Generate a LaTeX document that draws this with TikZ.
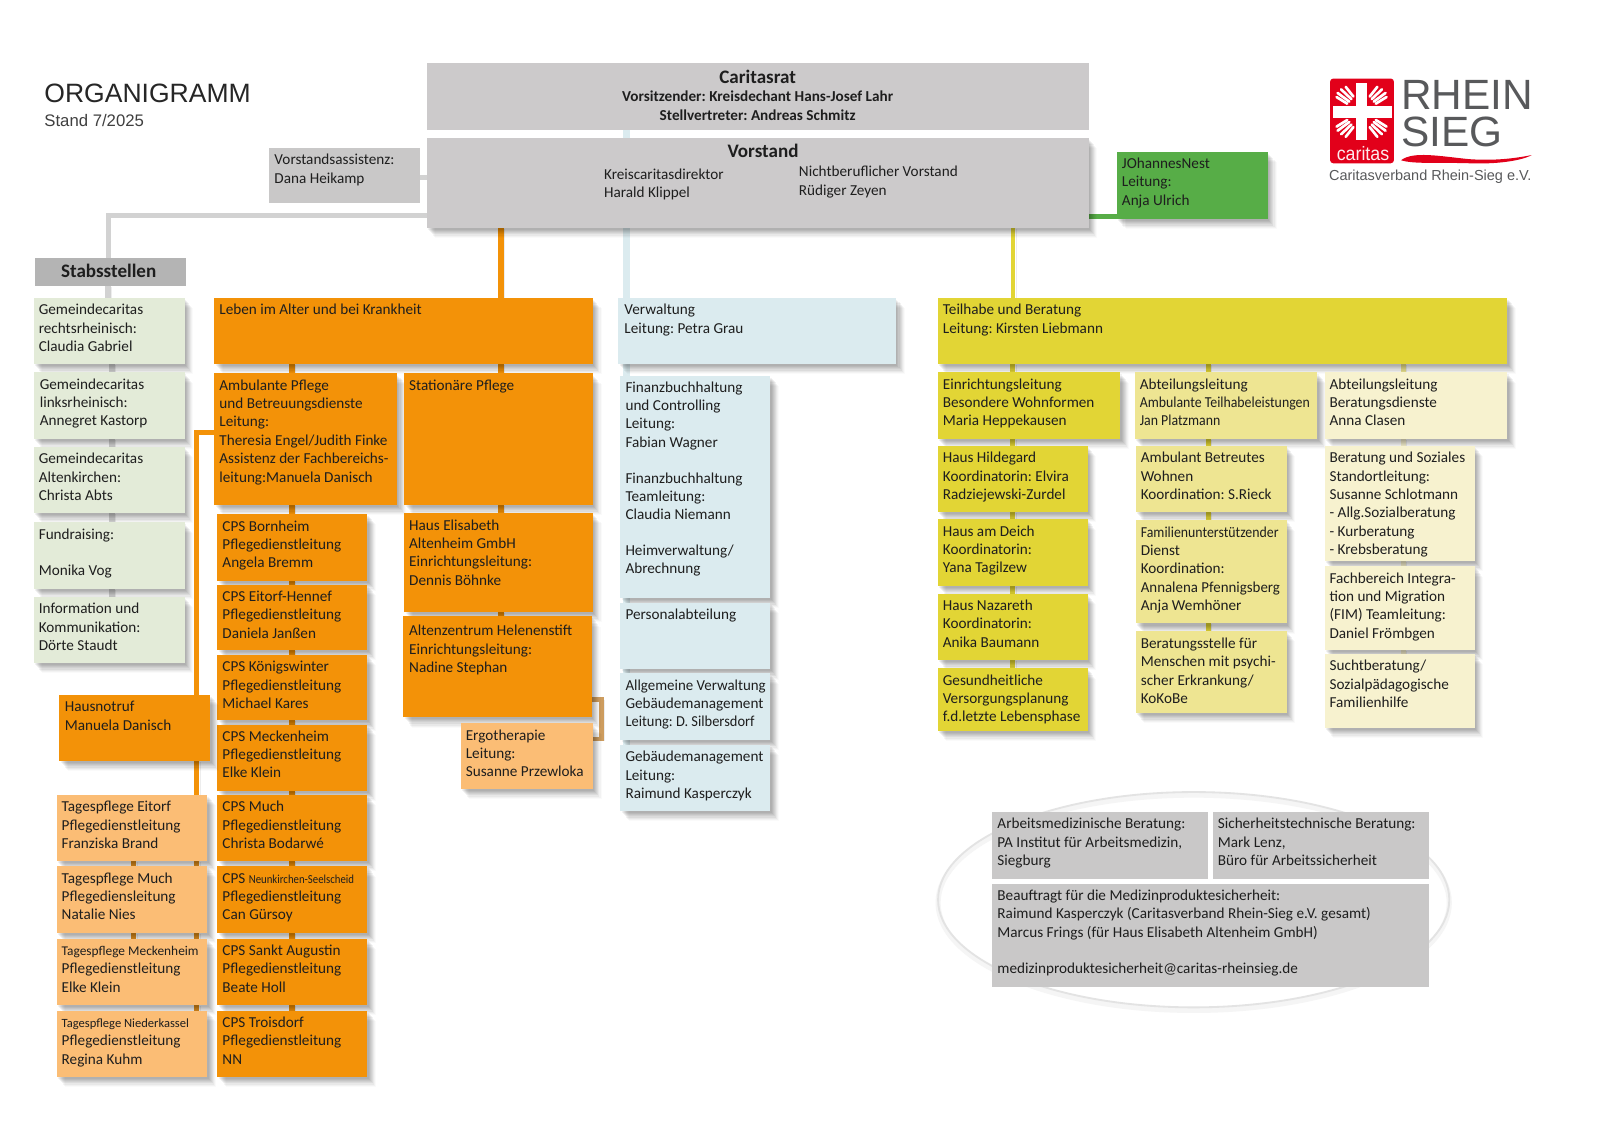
\documentclass[tikz,border=0pt]{standalone}
\usepackage{fontspec}
\usepackage{graphicx}
\setmainfont{Carlito}
\newfontfamily\arialf{Liberation Sans}
\usetikzlibrary{shadows,shapes.geometric,backgrounds,calc}
\definecolor{cGray}{HTML}{CCCACB}
\definecolor{cGrayB}{HTML}{C9C8C8}
\definecolor{cStab}{HTML}{B4B4B4}
\definecolor{cLine}{HTML}{D2D2D2}
\definecolor{cPale}{HTML}{E3EBD8}
\definecolor{cOr}{HTML}{F39208}
\definecolor{cOrL}{HTML}{FBBD75}
\definecolor{cOrD}{HTML}{E08F1E}
\definecolor{cTan}{HTML}{CD9C5E}
\definecolor{cBlue}{HTML}{DBEBEF}
\definecolor{cYe}{HTML}{E2D535}
\definecolor{cYeB}{HTML}{EEE592}
\definecolor{cYeC}{HTML}{F7F2CF}
\definecolor{cGreen}{HTML}{57AD47}
\definecolor{cRed}{HTML}{E2001A}
\definecolor{cLogo}{HTML}{58595B}
\definecolor{cTxt}{HTML}{1E1E1E}
\tikzset{
  boxst/.style={anchor=north west,inner xsep=5pt,inner ysep=0pt,outer sep=0pt,
    text=cTxt,font=\fontsize{14.9}{18}\selectfont\frenchspacing},
  sh/.style={
    drop shadow={shadow xshift=1.5pt,shadow yshift=-2pt,fill=black,opacity=.05},
    drop shadow={shadow xshift=2.5pt,shadow yshift=-3pt,fill=black,opacity=.05},
    drop shadow={shadow xshift=3.5pt,shadow yshift=-4pt,fill=black,opacity=.05},
    drop shadow={shadow xshift=4.5pt,shadow yshift=-5pt,fill=black,opacity=.05},
    drop shadow={shadow xshift=5.5pt,shadow yshift=-6.5pt,fill=black,opacity=.05},
    drop shadow={shadow xshift=6.5pt,shadow yshift=-8pt,fill=black,opacity=.04},
    drop shadow={shadow xshift=7.5pt,shadow yshift=-9pt,fill=black,opacity=.03},
    drop shadow={shadow xshift=8.5pt,shadow yshift=-10pt,fill=black,opacity=.02}},
  conn/.style={line width=6pt,line cap=butt,line join=miter,
    preaction={draw=black,opacity=.07,transform canvas={shift={(3pt,-1pt)}}}},
  pale/.style={fill=cPale,sh},
  ora/.style={fill=cOr,sh},
  orl/.style={fill=cOrL,sh},
  blu/.style={fill=cBlue,sh},
  yea/.style={fill=cYe,sh},
  yeb/.style={fill=cYeB,sh},
  yec/.style={fill=cYeC,sh},
  gry/.style={fill=cGray},
  plain/.style={fill=none},
  headf/.style={font=\fontsize{18.7}{18}\selectfont\bfseries},
  logot/.style={anchor=base west,inner sep=0pt,outer sep=0pt,text=cLogo}
}
% [style]{name}{x1}{y1}{x2}{y2}{lines}
\newcommand{\bx}[7][]{%
  \pgfmathsetmacro\bw{#5-#3-10}\pgfmathsetmacro\bh{#6-#4}%
  \node[boxst,#1] (#2) at (#3,#4) {\parbox[t][\bh pt][t]{\bw pt}{\vspace*{3.8pt}\begin{tabular}[t]{@{}l@{}}#7\end{tabular}}};}
\newcommand{\bxc}[7][]{%
  \pgfmathsetmacro\bw{#5-#3-10}\pgfmathsetmacro\bh{#6-#4}%
  \node[boxst,#1] (#2) at (#3,#4) {\parbox[t][\bh pt][t]{\bw pt}{\centering\vspace*{6.5pt}\begin{tabular}[t]{@{}c@{}}#7\end{tabular}}};}
% vertical link at given x
\newcommand{\vl}[4][]{\begin{pgfonlayer}{background}\path (#4,0) coordinate (cx);\draw[conn,#1] (#2.south -| cx) -- (#3.north -| cx);\end{pgfonlayer}}
\newcommand{\sqz}[2]{\scalebox{#1}[1]{#2}}
\begin{document}
\begin{tikzpicture}[x=1pt,y=-1pt]
\useasboundingbox (0,0) rectangle (1568,1108.4);
\begin{pgfonlayer}{background}
\fill[white] (0,0) rectangle (1568,1108.4);
\node[ellipse,draw=black!11,line width=1.8pt,minimum width=501pt,minimum height=211pt,inner sep=0pt,
  preaction={draw=black!4,line width=5pt,transform canvas={shift={(0pt,-3pt)}}}] (oval) at (1169.8,881.7) {};
\end{pgfonlayer}

% titles
\node[logot,text=black!85,font=\arialf\fontsize{26}{30}\selectfont] (titel) at (43.5,100) {ORGANIGRAMM};
\node[logot,text=black!75,font=\arialf\fontsize{16.4}{18}\selectfont] (stand) at (43.5,124) {Stand 7/2025};

% top
\bxc[gry]{rat}{418}{62}{1067}{127}{{\fontsize{18.7}{18}\selectfont\bfseries Caritasrat}\\\textbf{Vorsitzender: Kreisdechant Hans-Josef Lahr}\\\textbf{Stellvertreter: Andreas Schmitz}}
\bx[gry,sh]{vorst}{418}{135}{1067}{223}{}
\bx[plain,headf]{vt}{708}{137.5}{800}{160}{Vorstand}
\bx[plain]{vk}{587}{159.5}{760}{200}{Kreiscaritasdirektor\\Harald Klippel}
\bx[plain]{vn}{778}{157}{960}{200}{Nichtberuflicher Vorstand\\Rüdiger Zeyen}
\bx[fill=cGrayB]{assi}{264}{145}{412}{199}{Vorstandsassistenz:\\Dana Heikamp}
\bx[fill=cGreen,sh]{john}{1094.5}{148.5}{1242.5}{214.5}{JOhannesNest\\Leitung:\\Anja Ulrich}
\bxc[fill=cStab,headf]{stab}{34}{252.5}{182}{280}{\hspace*{-3pt}Stabsstellen}

% Stabsstellen column
\bx[pale]{ga}{33}{292}{181}{357}{Gemeindecaritas\\rechtsrheinisch:\\Claudia Gabriel}
\bx[pale]{gb}{33}{365}{181}{430}{\hspace*{1pt}Gemeindecaritas\\\hspace*{1pt}linksrheinisch:\\\hspace*{1pt}Annegret Kastorp}
\bx[pale]{gc}{33}{438}{181}{503}{Gemeindecaritas\\Altenkirchen:\\Christa Abts}
\bx[pale]{gd}{33}{512}{181}{577}{Fundraising:\\\\Monika Vog}
\bx[pale]{ge}{33}{585}{181}{650}{Information und\\Kommunikation:\\Dörte Staudt}

% Leben im Alter
\bx[ora]{leben}{210}{292}{581}{357}{Leben im Alter und bei Krankheit}
\bx[ora]{amb}{210}{366}{389}{495}{Ambulante Pflege\\und Betreuungsdienste\\Leitung:\\Theresia Engel/Judith Finke\\Assistenz der Fachbereichs-\\leitung:Manuela Danisch}
\bx[ora]{stat}{396}{366}{581}{495}{Stationäre Pflege}
\bx[ora]{cpsa}{213}{504}{360}{569}{CPS Bornheim\\Pflegedienstleitung\\Angela Bremm}
\bx[ora]{cpsb}{213}{573}{360}{637}{CPS Eitorf-Hennef\\Pflegedienstleitung\\Daniela Janßen}
\bx[ora]{cpsc}{213}{642}{360}{706}{CPS Königswinter\\Pflegedienstleitung\\Michael Kares}
\bx[ora]{cpsd}{213}{710}{360}{775}{CPS Meckenheim\\Pflegedienstleitung\\Elke Klein}
\bx[ora]{cpse}{213}{779}{360}{844}{CPS Much\\Pflegedienstleitung\\Christa Bodarwé}
\bx[ora]{cpsf}{213}{849}{360}{914}{CPS {\fontsize{12}{18}\selectfont\sqz{.88}{Neunkirchen-Seelscheid}}\\Pflegedienstleitung\\Can Gürsoy}
\bx[ora]{cpsg}{213}{920}{360}{985}{CPS Sankt Augustin\\Pflegedienstleitung\\Beate Holl}
\bx[ora]{cpsh}{213}{990.5}{360}{1055}{CPS Troisdorf\\Pflegedienstleitung\\NN}
\bx[ora]{hausn}{58}{681}{206}{746}{\hspace*{.5pt}Hausnotruf\\\hspace*{.5pt}Manuela Danisch}
\bx[orl]{tpa}{55.5}{779}{203}{844}{Tagespflege Eitorf\\Pflegedienstleitung\\Franziska Brand}
\bx[orl]{tpb}{55.5}{849}{203}{914}{Tagespflege Much\\Pflegediensleitung\\Natalie Nies}
\bx[orl]{tpc}{55.5}{920}{203}{985}{{\fontsize{13.1}{18}\selectfont Tagespflege Meckenheim}\\Pflegedienstleitung\\Elke Klein}
\bx[orl]{tpd}{55.5}{990.5}{203}{1055}{{\fontsize{12.3}{18}\selectfont Tagespflege Niederkassel}\\Pflegedienstleitung\\Regina Kuhm}
\bx[ora]{elis}{396}{503}{581}{600}{Haus Elisabeth\\Altenheim GmbH\\Einrichtungsleitung:\\Dennis Böhnke}
\bx[ora]{alten}{395}{604}{580}{703}{\rule{0pt}{15.2pt}\hspace*{1pt}Altenzentrum Helenenstift\\\hspace*{1pt}Einrichtungsleitung:\\\hspace*{1pt}Nadine Stephan}
\bx[orl]{ergo}{451.5}{709}{581}{773}{Ergotherapie\\Leitung:\\Susanne Przewloka}

% Verwaltung
\bx[blu]{verw}{606}{292}{878}{357}{\hspace*{1pt}Verwaltung\\\hspace*{1pt}Leitung: Petra Grau}
\bx[blu]{fin}{608}{368}{755}{586}{Finanzbuchhaltung\\und Controlling\\Leitung:\\Fabian Wagner\\\\[-1pt]Finanzbuchhaltung\\Teamleitung:\\Claudia Niemann\\\\[-1pt]Heimverwaltung/\\Abrechnung}
\bx[blu]{pers}{608}{591}{755}{656}{Personalabteilung}
\bx[blu]{allg}{608}{660}{755}{725}{\sqz{.98}{Allgemeine Verwaltung}\\Gebäudemanagement\\\sqz{.95}{Leitung: D. Silbersdorf}}
\bx[blu]{geb}{608}{730}{755}{795}{Gebäudemanagement\\Leitung:\\Raimund Kasperczyk}

% Teilhabe
\bx[yea]{teil}{919}{292}{1477}{357}{Teilhabe und Beratung\\Leitung: Kirsten Liebmann}
\bx[yea]{eina}{919}{365}{1098}{430}{Einrichtungsleitung\\Besondere Wohnformen\\Maria Heppekausen}
\bx[yeb]{abta}{1112}{365}{1291}{430}{Abteilungsleitung\\\sqz{.91}{Ambulante Teilhabeleistungen}\\\sqz{.91}{Jan Platzmann}}
\bx[yec]{abtb}{1298}{365}{1477}{430}{Abteilungsleitung\\Beratungsdienste\\Anna Clasen}
\bx[yea]{hhil}{919}{437}{1066}{502}{Haus Hildegard\\Koordinatorin: Elvira\\Radziejewski-Zurdel}
\bx[yea]{hdei}{919}{509}{1066}{574}{Haus am Deich\\Koordinatorin:\\Yana Tagilzew}
\bx[yea]{hnaz}{919}{582}{1066}{647}{Haus Nazareth\\Koordinatorin:\\Anika Baumann}
\bx[yea]{gesu}{919}{655}{1066}{716}{Gesundheitliche\\Versorgungsplanung\\f.d.letzte Lebensphase}
\bx[yeb]{abw}{1113}{437}{1261}{502}{Ambulant Betreutes\\Wohnen\\Koordination: S.Rieck}
\bx[yeb]{fam}{1113}{510}{1261}{611}{\sqz{.91}{Familienunterstützender}\\Dienst\\Koordination:\\\sqz{.98}{Annalena Pfennigsberg}\\Anja Wemhöner}
\bx[yeb]{bst}{1113}{618}{1261}{699}{\rule{0pt}{13.6pt}Beratungsstelle für\\Menschen mit psychi-\\scher Erkrankung/\\KoKoBe}
\bx[yec]{bes}{1298}{437}{1445}{550}{Beratung und Soziales\\Standortleitung:\\Susanne Schlotmann\\- Allg.Sozialberatung\\- Kurberatung\\- Krebsberatung}
\bx[yec]{fim}{1298}{555}{1445}{637}{Fachbereich Integra-\\tion und Migration\\(FIM) Teamleitung:\\Daniel Frömbgen}
\bx[yec]{such}{1298}{641}{1445}{713}{Suchtberatung/\\Sozialpädagogische\\Familienhilfe}

% bottom group
\bx[fill=cGrayB]{arb}{972.5}{796}{1184}{861}{Arbeitsmedizinische Beratung:\\PA Institut für Arbeitsmedizin,\\Siegburg}
\bx[fill=cGrayB]{sich}{1188.5}{796}{1400}{861}{Sicherheitstechnische Beratung:\\Mark Lenz,\\Büro für Arbeitssicherheit}
\bx[fill=cGrayB]{bea}{972.5}{866}{1400}{967}{Beauftragt für die Medizinproduktesicherheit:\\Raimund Kasperczyk (Caritasverband Rhein-Sieg e.V. gesamt)\\Marcus Frings (für Haus Elisabeth Altenheim GmbH)\\\\medizinproduktesicherheit@caritas-rheinsieg.de}

% connectors
\vl[draw=cBlue,line width=7pt]{rat}{vorst}{614}
\vl[draw=cBlue,line width=7pt]{vorst}{verw}{614}
\vl[draw=cOr,line width=6.5pt]{vorst}{leben}{491}
\vl[draw=cYe,line width=4pt]{vorst}{teil}{992.5}
\begin{pgfonlayer}{background}
\path (106,211) coordinate (stabc) (0,174) coordinate (assic) (0,212) coordinate (grnc) (193,424) coordinate (leftc) (589.5,685.5) coordinate (ebt) (589.5,724) coordinate (ebb);
\draw[draw=cLine,line width=5pt] (vorst.west |- stabc) -- (stabc) -- (stab.north -| stabc);
\draw[draw=cLine,line width=5pt] (assi.east |- assic) -- (vorst.west |- assic);
\draw[conn,draw=cGreen,line width=5pt] (vorst.east |- grnc) -- (john.west |- grnc);
\draw[draw=cOr,line width=5pt] (amb.west |- leftc) -- (leftc) -- (hausn.north -| leftc);
\draw[conn,draw=cTan,line width=4pt] (alten.east |- ebt) -- (ebt) -- (ebb) -- (ergo.east |- ebb);
\end{pgfonlayer}
\vl[draw=cLine]{stab}{ga}{106}
\vl[draw=cLine]{ga}{gb}{110}
\vl[draw=cLine]{gb}{gc}{110}
\vl[draw=cLine]{gc}{gd}{110}
\vl[draw=cLine]{gd}{ge}{110}
\vl[draw=cOr]{leben}{amb}{286}
\vl[draw=cOr]{leben}{stat}{491}
\vl[draw=cOr]{amb}{cpsa}{286}
\vl[draw=cOr]{cpsa}{cpsb}{286}
\vl[draw=cOr]{cpsb}{cpsc}{286}
\vl[draw=cOr]{cpsc}{cpsd}{286}
\vl[draw=cOr]{cpsd}{cpse}{286}
\vl[draw=cOr]{cpse}{cpsf}{286}
\vl[draw=cOr]{cpsf}{cpsg}{286}
\vl[draw=cOr]{cpsg}{cpsh}{286}
\vl[draw=cOr]{stat}{elis}{491}
\vl[draw=cOr]{elis}{alten}{491}
\vl[draw=cOr,line width=5pt]{hausn}{tpa}{193}
\vl[draw=cOrD,line width=5pt]{tpa}{tpb}{193}
\vl[draw=cOrD,line width=5pt]{tpb}{tpc}{193}
\vl[draw=cOrD,line width=5pt]{tpc}{tpd}{193}
\vl[draw=cOrD,line width=5pt]{tpa}{tpb}{131}
\vl[draw=cOrD,line width=5pt]{tpb}{tpc}{131}
\vl[draw=cBlue,line width=7pt]{verw}{fin}{614}
\vl[draw=cBlue,line width=7pt]{fin}{pers}{614}
\vl[draw=cBlue,line width=7pt]{pers}{allg}{614}
\vl[draw=cBlue,line width=7pt]{allg}{geb}{614}
\vl[draw=cYe,line width=5pt]{teil}{eina}{992.5}
\vl[draw=cYe,line width=5pt]{eina}{hhil}{992.5}
\vl[draw=cYe,line width=5pt]{hhil}{hdei}{992.5}
\vl[draw=cYe,line width=5pt]{hdei}{hnaz}{992.5}
\vl[draw=cYe,line width=5pt]{hnaz}{gesu}{992.5}
\vl[draw=cYe,line width=5pt]{teil}{abta}{1184}
\vl[draw=cYe,line width=5pt]{abta}{abw}{1184}
\vl[draw=cYe,line width=5pt]{abw}{fam}{1184}
\vl[draw=cYe,line width=5pt]{fam}{bst}{1184}
\vl[draw=cYeB,line width=5pt]{teil}{abtb}{1375}
\vl[draw=cYeC,line width=5pt]{abtb}{bes}{1375}
\vl[draw=cYeC,line width=5pt]{bes}{fim}{1375}
\vl[draw=cYeC,line width=5pt]{fim}{such}{1375}

% logo
\fill[cRed,rounded corners=3pt] (1303.5,77) rectangle (1366,160);
\fill[white] (1329,81) rectangle (1339.5,137);
\fill[white] (1306,104) rectangle (1364,115.3);
\foreach \sx/\sy in {1/1,-1/1,1/-1,-1/-1}{
  \begin{scope}[shift={(1334.3,109.6)},xscale=\sx,yscale=\sy]
    \draw[white,line width=2.6pt,line cap=round] (-24.5,-14.5) -- (-14,-8);
    \draw[white,line width=2.6pt,line cap=round] (-23.5,-18.5) -- (-12,-10);
    \draw[white,line width=2.6pt,line cap=round] (-20,-22) -- (-10,-12.5);
    \draw[white,line width=2.6pt,line cap=round] (-15.5,-24.5) -- (-8,-15);
  \end{scope}}
\node[logot,text=white!92!cRed,font=\arialf\fontsize{19}{20}\selectfont] (carit) at (1310,157) {\sqz{.92}{caritas}};
\bx[plain,text=cLogo,font=\arialf\fontsize{41.5}{35.9}\selectfont]{rhein}{1368}{78.6}{1510}{150}{\smash{RHEIN}\\\smash{SIEG}}
\fill[cRed] (1373,157) .. controls (1385,148) and (1410,153) .. (1440,156) .. controls (1470,158) and (1490,154) .. (1501,152) .. controls (1490,158) and (1465,161) .. (1440,160) .. controls (1410,159) and (1385,161) .. (1373,157) -- cycle;
\node[logot,font=\arialf\fontsize{14.2}{16}\selectfont] (cvb) at (1302.5,176.5) {Caritasverband Rhein-Sieg e.V.};
\end{tikzpicture}
\end{document}
